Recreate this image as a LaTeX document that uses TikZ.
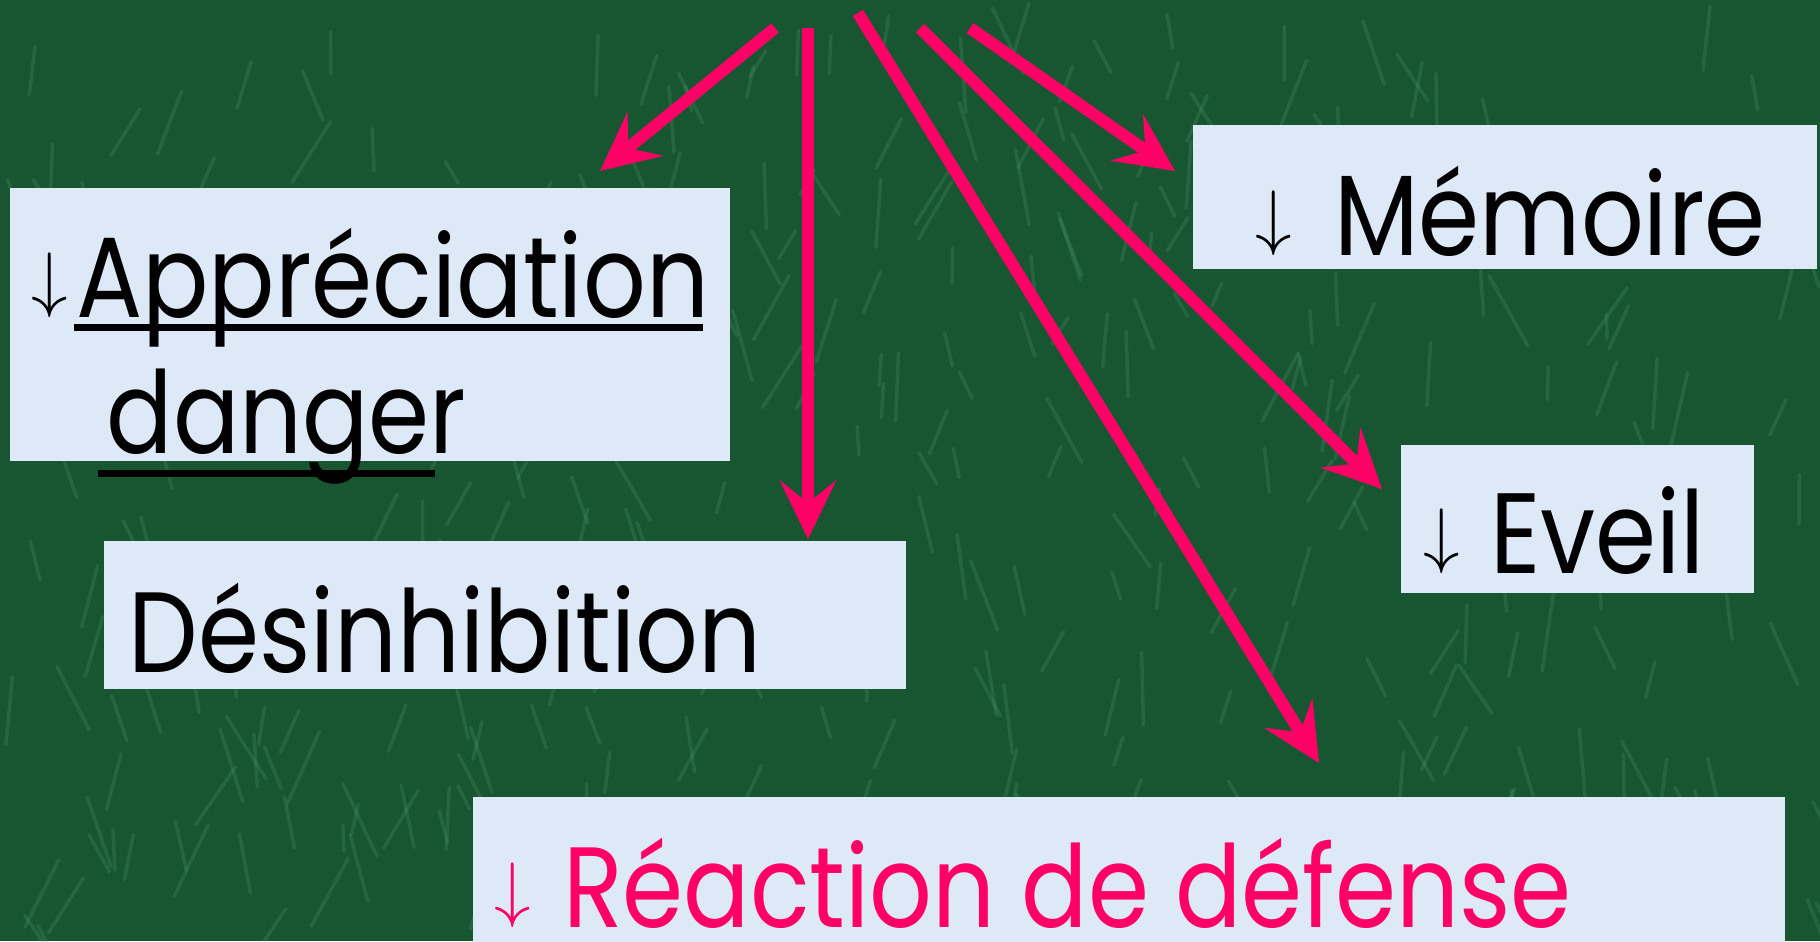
\documentclass[tikz,border=0pt]{standalone}
\usepackage{fontspec}
\setmainfont[FakeStretch=0.86]{Poppins}
\usetikzlibrary{arrows.meta}

\definecolor{feltgreen}{RGB}{24,86,50}
\definecolor{veingreen}{RGB}{90,170,120}
\definecolor{boxblue}{RGB}{222,233,247}
\definecolor{arrowpink}{RGB}{255,0,102}

\newcommand{\dn}{\raisebox{0.14cm}{\fontsize{21}{24}\selectfont$\downarrow$}}

\tikzset{
  panel/.style={fill=boxblue, draw=none, inner sep=0pt, anchor=north west},
  word/.style={anchor=base west, inner sep=0pt, text depth=0pt, font=\fontsize{32.5}{38}\selectfont},
  pointer/.style={draw=arrowpink, line width=0.12cm,
    -{Stealth[length=0.59cm, width=0.57cm, inset=0.23cm, line width=0pt]}},
  ulline/.style={line width=0.07cm},
  vein/.style={draw=veingreen, line width=0.035cm, opacity=0.2, line cap=round}
}

\begin{document}
\begin{tikzpicture}[x=0.01cm, y=-0.01cm]
  \useasboundingbox (0,0) rectangle (1820,941);
  \fill[feltgreen] (0,0) rectangle (1820,941);
  % marble veins
  \pgfmathsetseed{7}
  \begin{scope}
    \clip (0,0) rectangle (1820,941);
    \foreach \k in {1,...,360} {
      \pgfmathsetmacro{\vx}{1820*rnd}
      \pgfmathsetmacro{\vy}{941*rnd}
      \pgfmathsetmacro{\va}{90+35*rand}
      \pgfmathsetmacro{\vl}{25+55*rnd}
      \draw[vein] (\vx,\vy) -- ++(\va:\vl);
    }
  \end{scope}

  % boxes
  \node[panel, minimum width=7.20cm, minimum height=2.73cm] (appbox) at (9,187)    {};
  \node[panel, minimum width=8.02cm, minimum height=1.48cm] (desbox) at (103,540)  {};
  \node[panel, minimum width=6.24cm, minimum height=1.44cm] (membox) at (1192,124) {};
  \node[panel, minimum width=3.53cm, minimum height=1.48cm] (evbox)  at (1400,444) {};
  \node[panel, minimum width=13.12cm, minimum height=1.60cm] (reabox) at (472,796) {};

  % labels
  \node[word] (app) at (31,317)   {\dn\hspace{0.08cm}Appréciation};
  \node[word] (dgr) at (106,453)  {danger};
  \node[word] (des) at (128,672)  {Désinhibition};
  \node[word] (mem) at (1255,255) {\dn\hspace{0.42cm}Mémoire};
  \node[word] (ev)  at (1423,573) {\dn\hspace{0.3cm}Eveil};
  \node[word, text=arrowpink] (rea) at (494,927) {\dn\hspace{0.32cm}Réaction de défense};

  \draw[ulline] (74,327) -- (703,327);
  \draw[ulline] (98,473) -- (435,473);

  % arrows
  \coordinate (src1) at (775,28);  \coordinate (tip1) at (600,171);
  \coordinate (src2) at (808,28);  \coordinate (tip2) at (808,539);
  \coordinate (src3) at (858,13);  \coordinate (tip3) at (1319,763);
  \coordinate (src4) at (920,28);  \coordinate (tip4) at (1382,489);
  \coordinate (src5) at (970,28);  \coordinate (tip5) at (1175,171);
  \foreach \i in {1,...,5}
    \draw[pointer] (src\i) -- (tip\i);
\end{tikzpicture}
\end{document}
